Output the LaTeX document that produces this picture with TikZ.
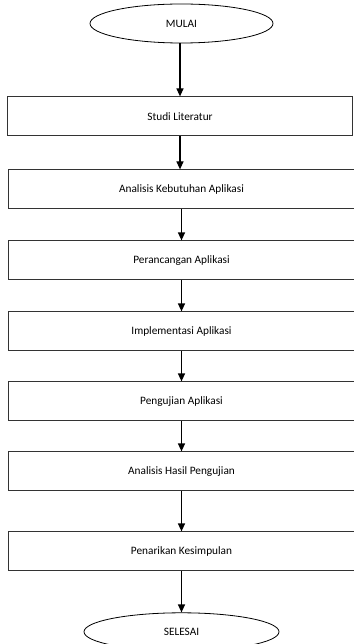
\documentclass[tikz,border=0pt]{standalone}
\usepackage{fontspec}
\setmainfont{Carlito}
\usetikzlibrary{positioning, shapes.geometric, arrows.meta}
\tikzset{
  >={Triangle[length=8pt, width=7pt]},
  every node/.style={font=\fontsize{11.3}{13}\selectfont},
  terminal/.style={ellipse, draw=black, line width=0.8pt, inner sep=0pt},
  stepbox/.style={rectangle, draw=black!80, line width=1pt, minimum width=347pt, minimum height=39pt, inner sep=0pt},
  flow/.style={->, line width=1.2pt},
}
\begin{document}
\begin{tikzpicture}
  \useasboundingbox (0,0) rectangle (353pt,-644pt);
  % terminals and steps
  \node[terminal, minimum width=183pt, minimum height=39pt] (mulai) at (181.5pt,-23.5pt) {MULAI};
  \node[stepbox, minimum width=345pt, below=53pt of mulai, xshift=-1.5pt] (studi) {Studi Literatur};
  \node[stepbox, below=33pt of studi, xshift=1.5pt] (analisis) {Analisis Kebutuhan Aplikasi};
  \node[stepbox, below=31pt of analisis] (rancang) {Perancangan Aplikasi};
  \node[stepbox, below=31pt of rancang] (implementasi) {Implementasi Aplikasi};
  \node[stepbox, below=30pt of implementasi] (uji) {Pengujian Aplikasi};
  \node[stepbox, below=30pt of uji] (hasil) {Analisis Hasil Pengujian};
  \node[stepbox, below=40pt of hasil] (simpul) {Penarikan Kesimpulan};
  \node[terminal, minimum width=195pt, minimum height=38pt, below=41pt of simpul] (selesai) {SELESAI};

  % arrows
  \draw[flow] (mulai.south -| studi.north) -- (studi.north);
  \draw[flow] (studi.south) -- (studi.south |- analisis.north);
  \draw[flow] (analisis) -- (rancang);
  \draw[flow] (rancang) -- (implementasi);
  \draw[flow] (implementasi) -- (uji);
  \draw[flow] (uji) -- (hasil);
  \draw[flow] (hasil) -- (simpul);
  \draw[flow] (simpul) -- (selesai);
\end{tikzpicture}
\end{document}
